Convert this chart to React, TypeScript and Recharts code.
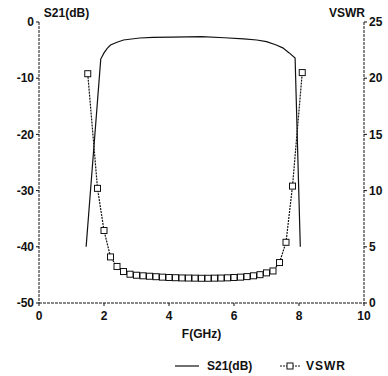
import React from "react";
import { ComposedChart, Line, XAxis, YAxis, Legend } from "recharts";

const s21Freq = [1.45, 1.9, 2.0, 2.1, 2.2, 2.4, 2.6, 3.1, 3.5, 4.1, 5.0, 5.7, 6.3, 6.7, 7.0, 7.3, 7.5, 7.7, 7.88, 8.04];
const s21Db = [-40, -6.6, -5.5, -4.7, -4.1, -3.6, -3.2, -2.85, -2.75, -2.7, -2.6, -2.8, -3.0, -3.2, -3.5, -4.1, -4.6, -5.5, -6.4, -40];

const vswrFreq = [1.5, 1.8, 2.0, 2.2, 2.4, 2.6, 2.8, 3.0, 3.2, 3.4, 3.6, 3.8, 4.0, 4.2, 4.4, 4.6, 4.8, 5.0, 5.2, 5.4, 5.6, 5.8, 6.0, 6.2, 6.4, 6.6, 6.8, 7.0, 7.2, 7.4, 7.6, 7.8, 8.1];
const vswrVal = [20.4, 10.2, 6.45, 4.1, 3.25, 2.8, 2.56, 2.47, 2.42, 2.38, 2.34, 2.3, 2.27, 2.25, 2.23, 2.22, 2.21, 2.2, 2.2, 2.21, 2.22, 2.24, 2.27, 2.3, 2.35, 2.42, 2.52, 2.68, 2.85, 3.6, 5.4, 10.4, 20.5];

const xTicks = [0, 2, 4, 6, 8, 10];
const leftTicks = [-50, -40, -30, -20, -10, 0];
const rightTicks = [0, 5, 10, 15, 20, 25];

const s21Data = s21Freq.map((f, i) => ({ f, s21: s21Db[i] }));
const vswrData = vswrFreq.map((f, i) => ({ f, vswr: vswrVal[i] }));

const FONT = "'Liberation Sans', Arial, sans-serif";
const INK = "#111";
const tickStyle = { fill: INK, fontSize: 12, fontWeight: 700, fontFamily: FONT };

const SquareDot = (props: any) => {
  const { cx, cy, index } = props;
  if (cx == null || cy == null) return <g key={index} />;
  return <rect key={index} x={cx - 3} y={cy - 3} width={6} height={6} fill="#fff" stroke={INK} strokeWidth={1} />;
};

const LegendContent = () => (
  <svg width={190} height={16} style={{ display: "block" }}>
    <line x1={5} y1={8} x2={29} y2={8} stroke={INK} strokeWidth={1.2} />
    <text x={37} y={12} fontSize={12} fontWeight={700} fontFamily={FONT} fill={INK}>S21(dB)</text>
    <line x1={110} y1={8} x2={130} y2={8} stroke={INK} strokeWidth={1.2} strokeDasharray="2 1" />
    <rect x={117} y={5} width={6} height={6} fill="#fff" stroke={INK} />
    <text x={136} y={12} fontSize={12} fontWeight={700} fontFamily={FONT} fill={INK} letterSpacing={1}>VSWR</text>
  </svg>
);

export default function App() {
  return (
    <div style={{ position: "absolute", left: 0, top: 0, width: 388, height: 376, background: "#fff" }}>
      <ComposedChart width={388} height={376} margin={{ top: 22, right: 0, bottom: 33, left: 0 }}>
        <XAxis
          xAxisId="b"
          type="number"
          dataKey="f"
          domain={[0, 10]}
          ticks={xTicks}
          allowDataOverflow
          height={40}
          tick={{ ...tickStyle, dy: 3 }}
          tickSize={3}
          stroke={INK}
          axisLine={{ stroke: INK, strokeDasharray: "3 1" }}
          label={{ value: "F(GHz)", position: "insideBottom", offset: 5, style: { ...tickStyle, textAnchor: "middle" } }}
        />
        <XAxis
          xAxisId="t"
          orientation="top"
          type="number"
          dataKey="f"
          domain={[0, 10]}
          height={0}
          tick={false}
          tickLine={false}
          axisLine={{ stroke: INK, strokeDasharray: "3 1" }}
        />
        <YAxis
          yAxisId="l"
          domain={[-50, 0]}
          ticks={leftTicks}
          width={39}
          tick={tickStyle}
          tickSize={3}
          stroke={INK}
          axisLine={{ stroke: INK, strokeDasharray: "3 1" }}
          label={{ value: "S21(dB)", position: "top", offset: 0, dx: 47, dy: -5, style: { ...tickStyle, textAnchor: "middle" } }}
        />
        <YAxis
          yAxisId="r"
          orientation="right"
          domain={[0, 25]}
          ticks={rightTicks}
          width={24}
          tick={tickStyle}
          tickSize={3}
          stroke={INK}
          axisLine={{ stroke: INK, strokeDasharray: "3 1" }}
          label={{ value: "VSWR", position: "top", offset: 0, dx: -29, dy: -5, style: { ...tickStyle, textAnchor: "middle" } }}
        />
        <Line
          xAxisId="b"
          yAxisId="l"
          data={s21Data}
          dataKey="s21"
          type="linear"
          stroke={INK}
          strokeWidth={1.2}
          dot={false}
          activeDot={false}
          isAnimationActive={false}
        />
        <Line
          xAxisId="b"
          yAxisId="r"
          data={vswrData}
          dataKey="vswr"
          type="linear"
          stroke={INK}
          strokeWidth={1.2}
          strokeDasharray="2 1"
          dot={<SquareDot />}
          activeDot={false}
          isAnimationActive={false}
        />
        <Legend
          layout="vertical"
          align="center"
          verticalAlign="middle"
          content={<LegendContent />}
          wrapperStyle={{ position: "absolute", left: 170, top: 358, width: 190, height: 16 }}
        />
      </ComposedChart>
    </div>
  );
}
